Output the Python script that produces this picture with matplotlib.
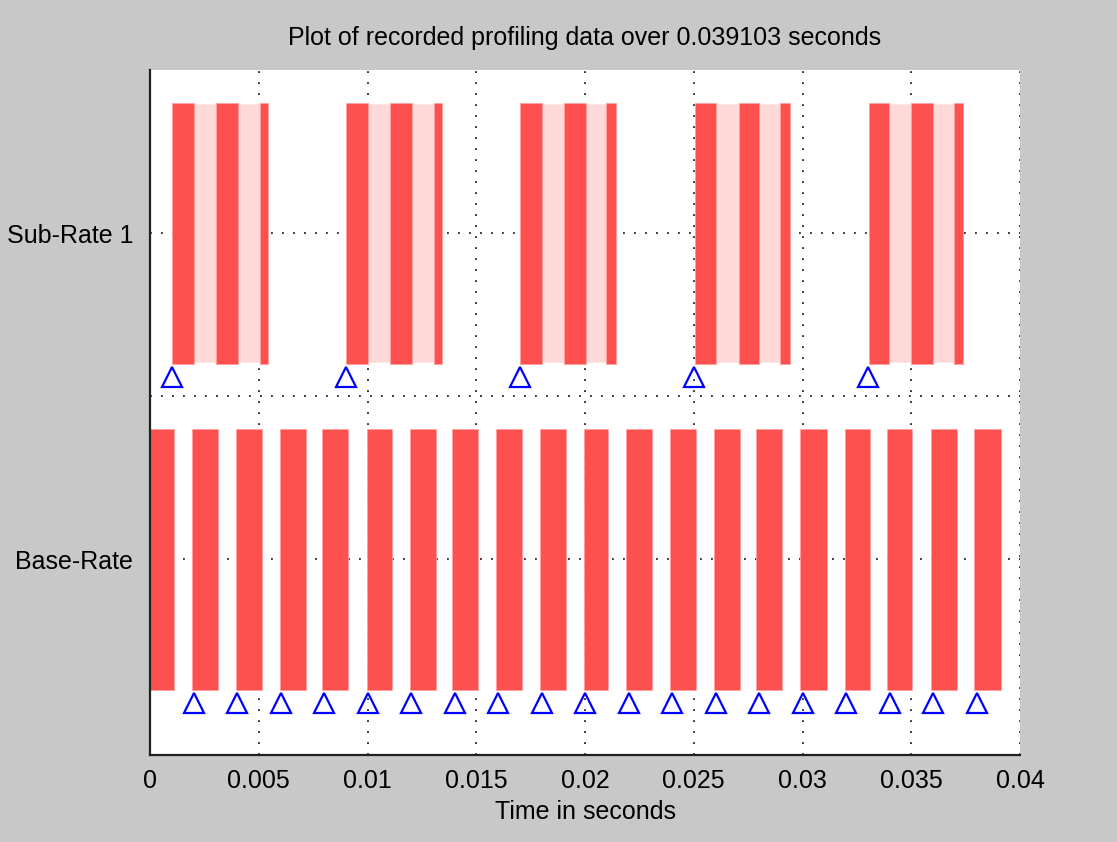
import matplotlib
matplotlib.use("Agg")
import matplotlib.pyplot as plt

plt.rcParams['font.family'] = ['Liberation Sans', 'DejaVu Sans']

# row labels
rows = ['Base-Rate', 'Sub-Rate 1']

# base-rate task: start / end of each execution (seconds)
base_start = [0.0, 0.00195, 0.00397, 0.00599, 0.00792, 0.00996, 0.01197, 0.0139, 0.01592, 0.01795,
              0.01997, 0.0219, 0.02392, 0.02594, 0.02788, 0.0299, 0.03194, 0.03387, 0.03589, 0.0379]
base_end = [0.0011, 0.00313, 0.00515, 0.00717, 0.00912, 0.01114, 0.01315, 0.01509, 0.01712, 0.01914,
            0.02107, 0.02309, 0.02512, 0.02714, 0.02907, 0.03111, 0.03312, 0.03505, 0.03709, 0.039103]
base_trig = [0.002, 0.004, 0.006, 0.008, 0.010, 0.012, 0.014, 0.016, 0.018, 0.020,
             0.022, 0.024, 0.026, 0.028, 0.030, 0.032, 0.034, 0.036, 0.038]

# sub-rate task: running (dark) and preempted (light) segments
sub_run_start = [0.00101, 0.00305, 0.00506, 0.00903, 0.01105, 0.01306, 0.01703, 0.01905, 0.02098,
                 0.02504, 0.02707, 0.02898, 0.03304, 0.03497, 0.03698]
sub_run_end = [0.00202, 0.00406, 0.00543, 0.01004, 0.01206, 0.01344, 0.01804, 0.02005, 0.02144,
               0.02602, 0.02798, 0.02944, 0.03396, 0.03599, 0.03738]
sub_wait_start = [0.00202, 0.00406, 0.01004, 0.01206, 0.01804, 0.02005, 0.02602, 0.02798, 0.03396, 0.03599]
sub_wait_end = [0.00305, 0.00506, 0.01105, 0.01306, 0.01905, 0.02098, 0.02707, 0.02898, 0.03497, 0.03698]
sub_trig = [0.001, 0.009, 0.017, 0.025, 0.033]

xticks = [0, 0.005, 0.01, 0.015, 0.02, 0.025, 0.03, 0.035, 0.04]
xticklabels = ['0', '0.005', '0.01', '0.015', '0.02', '0.025', '0.03', '0.035', '0.04']

dark = '#ff5050'
light = '#ffd8d8'
grey = '#c8c8c8'

fig = plt.figure(figsize=(11.17, 8.42), dpi=100, facecolor=grey)
ax = fig.add_axes([0.1343, 0.1033, 0.7789, 0.8136])
ax.set_facecolor('white')

h = 0.8
ax.barh([1] * len(base_start), [e - s for s, e in zip(base_start, base_end)], left=base_start,
        height=h, color=dark, edgecolor='#ffa0a0', linewidth=0.6, zorder=2)
ax.barh([2] * len(sub_wait_start), [e - s for s, e in zip(sub_wait_start, sub_wait_end)], left=sub_wait_start,
        height=h * 0.99, color=light, edgecolor='#ffe4e4', linewidth=0.6, zorder=2)
ax.barh([2] * len(sub_run_start), [e - s for s, e in zip(sub_run_start, sub_run_end)], left=sub_run_start,
        height=h, color=dark, edgecolor='#ffa0a0', linewidth=0.6, zorder=3)

# trigger markers
ax.plot(base_trig, [1 - 0.44] * len(base_trig), linestyle='none', marker='^', ms=14,
        mfc='none', mec='#0000ff', mew=1.6, zorder=4)
ax.plot(sub_trig, [2 - 0.44] * len(sub_trig), linestyle='none', marker='^', ms=14,
        mfc='none', mec='#0000ff', mew=1.6, zorder=4)

ax.set_xlim(0, 0.04)
ax.set_ylim(0.4, 2.5)
ax.set_xticks(xticks)
ax.set_xticklabels(xticklabels)
ax.set_yticks([1, 1.5, 2])
ax.set_yticklabels([rows[0], '', rows[1]])
ax.tick_params(axis='both', length=0, labelsize=18)
ax.tick_params(axis='x', pad=10)
ax.tick_params(axis='y', pad=12)

ax.set_axisbelow(True)
ax.grid(True, color='black', linestyle=(0, (1.2, 6)), linewidth=1.1)

for s in ['top', 'right']:
    ax.spines[s].set_visible(False)
for s in ['left', 'bottom']:
    ax.spines[s].set_linewidth(1.6)
    ax.spines[s].set_color('#202020')

ax.set_xlabel('Time in seconds', fontsize=18, labelpad=5)
ax.set_title('Plot of recorded profiling data over 0.039103 seconds', fontsize=18, pad=18)

fig.savefig('out.png', dpi=100, facecolor=grey)
